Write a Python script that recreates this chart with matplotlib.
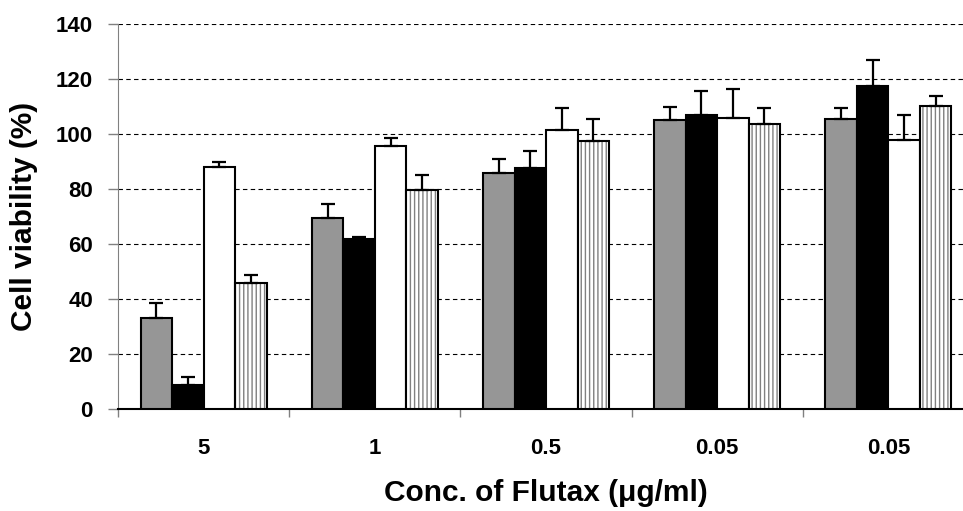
import numpy as np
import matplotlib
matplotlib.use("Agg")
import matplotlib.pyplot as plt

plt.rcParams['font.family'] = ['Liberation Sans', 'DejaVu Sans']
plt.rcParams['hatch.linewidth'] = 1.0

groups = ['5', '1', '0.5', '0.05', '0.05']
# series values (mean) and upper error
gray_vals = [33, 69.5, 86, 105, 105.5]
gray_err = [5.7, 5.1, 5, 5, 4]
black_vals = [8.8, 61.7, 87.5, 107, 117.6]
black_err = [2.9, 0.9, 6.5, 8.5, 9.4]
white_vals = [88, 95.5, 101.5, 106, 97.7]
white_err = [2, 3, 8, 10.5, 9.3]
hatch_vals = [45.7, 79.8, 97.5, 103.5, 110.1]
hatch_err = [3, 5.2, 8, 6, 3.8]

fig = plt.figure(figsize=(9.63, 5.11), dpi=100)
ax = fig.add_axes([0.1225, 0.1996, 0.889, 0.7534])

x = np.arange(len(groups)) + 0.5
w = 0.184
offs = np.array([-1.5, -0.5, 0.5, 1.5]) * w
err_kw = dict(ecolor='black', elinewidth=1.6, capsize=5, capthick=1.6)
zero = np.zeros(len(groups))

ax.bar(x + offs[0], gray_vals, w, color='#969696', edgecolor='black', linewidth=1.5,
       yerr=[zero, gray_err], error_kw=err_kw, zorder=3)
ax.bar(x + offs[1], black_vals, w, color='black', edgecolor='black', linewidth=1.5,
       yerr=[zero, black_err], error_kw=err_kw, zorder=3)
ax.bar(x + offs[2], white_vals, w, color='white', edgecolor='black', linewidth=1.5,
       yerr=[zero, white_err], error_kw=err_kw, zorder=3)
ax.bar(x + offs[3], hatch_vals, w, color='white', edgecolor='#808080', linewidth=0,
       hatch='||||', zorder=3)
ax.bar(x + offs[3], hatch_vals, w, fill=False, edgecolor='black', linewidth=1.5,
       yerr=[zero, hatch_err], error_kw=err_kw, zorder=4)

ax.set_ylim(0, 140)
ax.set_xlim(0, 5)
ax.set_yticks(range(0, 141, 20))
ax.yaxis.grid(True, linestyle=(0, (4, 3)), color='black', linewidth=0.8)
ax.set_axisbelow(True)

ax.set_xticks(x)
ax.set_xticklabels(groups)
ax.set_xticks(np.arange(0, 6), minor=True)
ax.tick_params(axis='x', which='major', length=0, pad=21)
ax.tick_params(axis='x', which='minor', length=6, width=1, color='#808080')
ax.tick_params(axis='y', length=7, width=1, color='#808080', pad=11)
for lab in ax.get_xticklabels() + ax.get_yticklabels():
    lab.set_fontsize(16)
    lab.set_fontweight('bold')

ax.spines['top'].set_visible(False)
ax.spines['right'].set_visible(False)
ax.spines['left'].set_color('#808080')
ax.spines['bottom'].set_color('black')
ax.spines['bottom'].set_linewidth(1.5)

ax.set_ylabel('Cell viability (%)', fontsize=21.5, fontweight='bold', labelpad=13)
ax.set_xlabel('Conc. of Flutax (μg/ml)', fontsize=21.5, fontweight='bold', labelpad=14)

fig.savefig('out.png', dpi=100)
